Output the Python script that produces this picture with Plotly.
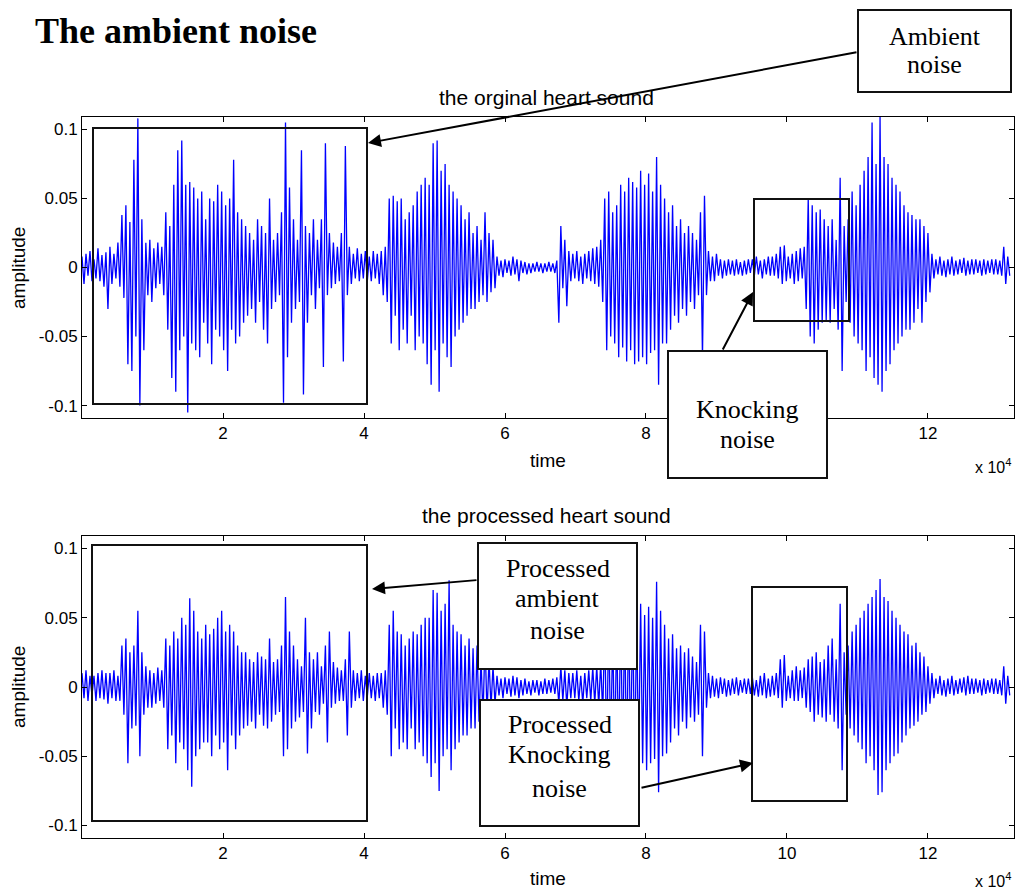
import numpy as np
import plotly.graph_objects as go

# ---------------- data (amplitudes in units of 0.001) ----------------
SAMPLE_STEP = 283          # samples between successive read-off points
X_TICKS = [20000, 40000, 60000, 80000, 100000, 120000]
X_TICK_TEXT = ["2", "4", "6", "8", "10", "12"]
Y_TICKS = [-0.1, -0.05, 0, 0.05, 0.1]
Y_TICK_TEXT = ["-0.1", "-0.05", "0", "0.05", "0.1"]

original_milli = [
    8, -12, 10, -6, 12, -10,
    6, -8, 14, -10, 9, -14, 11, -30,
    15, -12, 10, -8, 18, -14,
    38, -22, 45, -70, 33, -75, 78, -50, 108, -100,
    35, -60, 18, -20, 20, -25, 14, -15, 18, -12, 15, -20,
    40, -45, 30, -80, 60, -90, 85, -60, 92, -50,
    60, -105, 62, -55, 58, -60, 50, -65, 55, -40,
    35, -55, 50, -70, 48, -45, 60, -50, 55, -60,
    45, -75, 50, -45, 78, -55, 40, -50, 35, -40,
    30, -35, 25, -30, 20, -40, 35, -25, 30, -45,
    25, -55, 50, -30, 20, -25, 25, -20, 40, -98,
    105, -65, 58, -40, 35, -30, 20, -25, 85, -92,
    30, -40, 25, -20, 35, -30, 20, -15, 35, -72,
    90, -20, 25, -15, 18, -12, 15, -10, 25, -68,
    88, -20, 15, -12, 10, -8, 14, -10, 10, -8,
    12, -10, 8, -10, 12, -8, 10, -12,
    12, -20, 15, -25, 50, -55, 52, -35, 48, -60,
    50, -45, 35, -55, 40, -35, 45, -60, 55, -50,
    60, -55, 65, -70, 60, -85, 90, -60, 92, -90,
    70, -55, 75, -65, 60, -72, 55, -50, 50, -45,
    45, -40, 35, -35, 40, -30, 25, -30, 30, -25,
    20, -20, 40, -25, 25, -18, 20, -15,
    8, -6, 5, -7, 6, -4, 5, -6, 8, -5,
    6, -10, 5, -4, 4, -5, 3, -4, 3, -3,
    4, -3, 3, -4, 3, -3, 4, -3, 3, -4, 5,
    -40, 30, -15, 20, -28, 12, -10, 10, -8, 12,
    -10, 8, -12, 10, -8, 12, -10, 14, -12, 15,
    -14, 20, -25,
    50, -60, 55, -50, 40, -55, 45, -65, 60, -58,
    55, -68, 65, -60, 62, -70, 58, -68, 70, -65,
    60, -70, 68, -62, 55, -60, 80, -85, 60, -55,
    50, -55, 40, -45, 45, -35, 30, -40, 35, -30,
    25, -35, 30, -25, 25, -30, 20, -20, 40, -65,
    52, -20,
    12, -10, 8, -10, 10, -6, 6, -8, 5, -6,
    6, -5, 5, -6, 6, -5, 4, -6, 5, -5, 6, -4,
    6, -6, 8, -5, 5, -8, 6, -5, 8, -6,
    8, -6, 10, -8, 15, -12, 16, -10, 8, -8,
    10, -12, 12, -10, 14, -8, 15,
    -30, 50, -50, 45, -55, 40, -45, 42, -40, 35,
    -38, 30, -40, 35, -30, 20, -45, 65, -75, 30,
    -25, 35,
    -40, 55, -50, 45, -55, 60, -60, 70, -75, 80,
    -65, 105, -80, 75, -85, 110, -90, 80, -75, 75,
    -70, 65, -60, 60, -55, 55, -50, 45, -45, 40,
    -45, 38, -40, 35, -30, 35, -40, 30, -25, 25,
    -18, 10,
    -8, 6, -5, 8, -6, 5, -7, 6, -5, 8,
    -6, 5, -5, 6, -4, 7, -6, 5, -5, 6,
    -5, 6, -4, 5, -6, 6, -5, 5, -4, 6,
    -5, 6, -5, 5, -6, 15, -12, 8, -6,
]

processed_milli = [
    10, -8, 12, -10, 8, -6,
    8, -10, 10, -8, 12, -9, 10, -12,
    10, -8, 12, -10, 8, -10,
    30, -20, 35, -55, 25, -30, 30, -28, 55, -50,
    25, -20, 15, -15, 12, -15, 10, -12, 14, -10, 12, -15,
    35, -45, 30, -35, 40, -55, 35, -40, 50, -45,
    45, -60, 64, -72, 55, -50, 40, -45, 35, -40,
    45, -40, 38, -50, 42, -35, 50, -45, 55, -40,
    40, -60, 45, -35, 40, -45, 30, -35, 25, -30,
    25, -28, 20, -25, 18, -30, 25, -20, 22, -28,
    20, -30, 35, -25, 18, -20, 20, -18, 30, -50,
    65, -45, 40, -30, 30, -25, 20, -22, 15, -18,
    50, -48, 25, -30, 20, -18, 25, -20, 15, -12,
    30, -40, 40, -15, 18, -12, 14, -10, 12, -10,
    20, -35, 40, -15, 12, -10, 10, -8, 12, -10,
    8, -7, 10, -8, 8, -10, 10, -8,
    10, -15, 12, -20, 45, -50, 55, -30, 40, -45,
    38, -40, 30, -45, 35, -30, 40, -45, 38, -40,
    45, -50, 50, -55, 50, -65, 70, -55, 68, -75,
    55, -50, 60, -45, 77, -60, 45, -45, 40, -40,
    38, -35, 30, -35, 35, -30, 28, -30, 30, -25,
    20, -22, 35, -20, 20, -15, 15, -12,
    8, -6, 6, -8, 7, -5, 6, -7, 8, -6,
    7, -8, 5, -6, 6, -5, 4, -6, 5, -4,
    5, -6, 4, -5, 6, -5, 5, -4, 6, -5, 7,
    -12, 15, -10, 12, -14, 10, -8, 10, -8, 12,
    -10, 8, -12, 10, -8, 12, -10, 14, -12, 15,
    -14, 18, -20,
    45, -50, 50, -45, 40, -50, 45, -55, 55, -50,
    50, -58, 55, -52, 58, -60, 50, -55, 60, -55,
    52, -60, 58, -55, 50, -52, 76, -76, 55, -50,
    45, -48, 35, -40, 38, -30, 28, -35, 30, -25,
    25, -30, 28, -22, 22, -25, 18, -20, 45, -50,
    40, -15,
    10, -8, 8, -7, 6, -8, 7, -5, 6, -7,
    5, -6, 6, -5, 7, -6, 5, -4, 6, -5,
    6, -5, 7, -6, 5, -7, 8, -6, 10, -8,
    6, -7, 8, -6, 10, -8, 20, -15, 23, -10,
    8, -8, 12, -10, 15, -10, 12, -8, 14,
    -15, 20, -18, 22, -25, 25, -20, 18, -22, 20,
    -25, 30, -20, 35, -25, 20, -30, 60, -60, 25,
    -20, 30,
    -30, 40, -35, 45, -40, 50, -45, 55, -55, 60,
    -50, 65, -60, 70, -78, 78, -76, 65, -60, 62,
    -55, 55, -50, 50, -48, 45, -40, 40, -35, 38,
    -30, 30, -28, 32, -25, 25, -20, 22, -18, 15,
    -12, 10,
    -8, 6, -5, 8, -6, 5, -7, 6, -5, 8,
    -6, 5, -5, 6, -4, 7, -6, 8, -5, 6,
    -5, 6, -4, 5, -6, 6, -5, 5, -4, 6,
    -5, 6, -5, 5, -6, 15, -12, 8, -6,
]

# ---------------- figure ----------------
W, H = 1016, 892
L, R, T, B = 82, 2, 117, 54
PW, PH = W - L - R, H - T - B


def px(X):
    return (X - L) / PW


def py(Y):
    return (H - B - Y) / PH


orig = np.array(original_milli) / 1000.0
proc = np.array(processed_milli) / 1000.0
t_orig = np.arange(len(orig)) * SAMPLE_STEP
t_proc = np.arange(len(proc)) * SAMPLE_STEP

fig = go.Figure()
fig.add_trace(go.Scatter(x=t_orig, y=orig, mode="lines",
                         line=dict(color="#0000ff", width=1.3),
                         xaxis="x", yaxis="y", showlegend=False))
fig.add_trace(go.Scatter(x=t_proc, y=proc, mode="lines",
                         line=dict(color="#0000ff", width=1.3),
                         xaxis="x2", yaxis="y2", showlegend=False))

tick_font = dict(family="Liberation Sans, Arial", size=17, color="black")
xax = dict(range=[0, 132200], tickvals=X_TICKS, ticktext=X_TICK_TEXT,
           ticks="inside", ticklen=5, tickcolor="black", showline=True,
           linecolor="black", linewidth=1, mirror="ticks", showgrid=False,
           zeroline=False, tickfont=tick_font)
yax = dict(range=[-0.109, 0.109], tickvals=Y_TICKS, ticktext=Y_TICK_TEXT,
           ticks="inside", ticklen=5, tickcolor="black", showline=True,
           linecolor="black", linewidth=1, mirror="ticks", showgrid=False,
           zeroline=False, tickfont=tick_font)

top_dom = [py(418), 1.0]
bot_dom = [0.0, py(536)]

fig.update_layout(
    width=W, height=H,
    margin=dict(l=L, r=R, t=T, b=B),
    paper_bgcolor="white", plot_bgcolor="white",
    xaxis=dict(xax, domain=[0, 1], anchor="y"),
    yaxis=dict(yax, domain=top_dom, anchor="x"),
    xaxis2=dict(xax, domain=[0, 1], anchor="y2"),
    yaxis2=dict(yax, domain=bot_dom, anchor="x2"),
)

shapes = []
# highlight rectangles inside the plots
for (x0, y0, x1, y1) in [(93, 128, 367, 404), (754, 199, 849, 321),
                         (92, 545, 367, 821), (752, 587, 847, 801)]:
    shapes.append(dict(type="rect", xref="paper", yref="paper",
                       x0=px(x0), x1=px(x1), y0=py(y1), y1=py(y0),
                       line=dict(color="#111111", width=2),
                       fillcolor="rgba(0,0,0,0)", layer="above"))
# text boxes
for (x0, y0, x1, y1) in [(858, 10, 1011, 92), (668, 351, 827, 478),
                         (478, 543, 637, 669), (480, 700, 639, 826)]:
    shapes.append(dict(type="rect", xref="paper", yref="paper",
                       x0=px(x0), x1=px(x1), y0=py(y1), y1=py(y0),
                       line=dict(color="#111111", width=2),
                       fillcolor="white", layer="above"))
fig.update_layout(shapes=shapes)

ann = []
serif = dict(family="Liberation Serif, Times New Roman", size=26, color="black")
sans = dict(family="Liberation Sans, Arial", color="black")


def text(x, y, s, font, xanchor="center", angle=0):
    ann.append(dict(x=px(x), y=py(y), xref="paper", yref="paper", text=s,
                    showarrow=False, font=font, xanchor=xanchor,
                    yanchor="middle", textangle=angle))


# main heading
text(33, 31, "<b>The ambient noise</b>",
     dict(family="Liberation Serif, Times New Roman", size=36, color="black"),
     xanchor="left")
# subplot titles
text(546, 97, "the orginal heart sound", dict(sans, size=21))
text(546, 515, "the processed heart sound", dict(sans, size=21))
# axis labels
text(548, 460, "time", dict(sans, size=19))
text(548, 878, "time", dict(sans, size=19))
text(18, 268, "amplitude", dict(sans, size=19), angle=-90)
text(18, 687, "amplitude", dict(sans, size=19), angle=-90)
text(1013, 466, "x 10<sup>4</sup>", dict(sans, size=16), xanchor="right")
text(1013, 880, "x 10<sup>4</sup>", dict(sans, size=16), xanchor="right")
# box labels
for (x, y, s) in [(934.5, 36, "Ambient"), (934.5, 64, "noise"),
                  (747.5, 409, "Knocking"), (747.5, 439, "noise"),
                  (557.5, 568, "Processed"), (557.5, 598, "ambient"),
                  (557.5, 630, "noise"),
                  (559.5, 724, "Processed"), (559.5, 754, "Knocking"),
                  (559.5, 788, "noise")]:
    text(x, y, s, serif)

# arrows: (tip x, tip y, start x, start y) in pixels
for (tx, ty, sx, sy) in [(368, 143, 858, 52), (753, 292, 722, 351),
                         (372, 589, 478, 580), (753, 763, 640, 788)]:
    ann.append(dict(x=px(tx), y=py(ty), xref="paper", yref="paper",
                    ax=sx - tx, ay=sy - ty, axref="pixel", ayref="pixel",
                    text="", showarrow=True, arrowhead=2, arrowsize=1.3,
                    arrowwidth=2, arrowcolor="black", standoff=0))
fig.update_layout(annotations=ann)

fig.write_html(
    "out.html",
    config={"displayModeBar": False},
    post_script="document.body.style.margin='0';"
                "document.body.style.overflow='hidden';"
                "window.dispatchEvent(new Event('resize'));",
)
